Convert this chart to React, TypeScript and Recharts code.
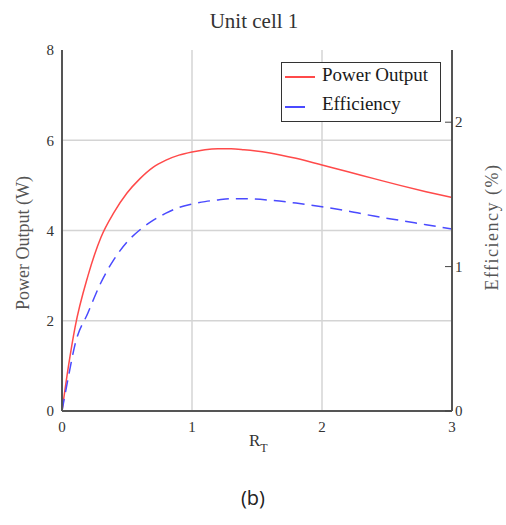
import { CartesianGrid, Line, LineChart, XAxis, YAxis } from "recharts";

const resistance = [0, 0.05, 0.1, 0.2, 0.3, 0.4, 0.5, 0.6, 0.7, 0.8, 0.9, 1.0, 1.1, 1.2, 1.3, 1.4, 1.6, 1.8, 2.0, 2.2, 2.4, 2.6, 2.8, 3.0];
const powerOutput = [0, 1.0, 1.85, 3.0, 3.85, 4.4, 4.83, 5.15, 5.4, 5.56, 5.67, 5.74, 5.79, 5.81, 5.81, 5.79, 5.72, 5.6, 5.45, 5.3, 5.15, 5.0, 4.86, 4.73];
const efficiency = [0, 0.24, 0.46, 0.68, 0.89, 1.05, 1.17, 1.255, 1.32, 1.37, 1.41, 1.433, 1.45, 1.462, 1.47, 1.47, 1.46, 1.44, 1.414, 1.385, 1.35, 1.32, 1.29, 1.26];

const xTicks = [0, 1, 2, 3];
const powerTicks = [0, 2, 4, 6, 8];
const effTicks = [0, 1, 2];

const data = resistance.map((r, i) => ({ r, power: powerOutput[i], eff: efficiency[i] }));

const serif = "'Liberation Serif', 'DejaVu Serif', serif";
const tickStyle = { fontSize: 15, fill: "#333", fontFamily: serif };

function RightTick({ x, y, payload }: any) {
  return (
    <g>
      <line x1={x - 10} x2={x - 3} y1={y} y2={y} stroke="#444" strokeWidth={1} />
      <text x={x} y={y} dy={5} textAnchor="start" {...tickStyle}>
        {payload.value}
      </text>
    </g>
  );
}

export default function App() {
  return (
    <div style={{ position: "absolute", left: 0, top: 0, width: 506, height: 525, background: "#fff", fontFamily: serif }}>
      <div style={{ position: "absolute", left: 0, width: 508, top: 9, textAlign: "center", fontSize: 21, color: "#333" }}>
        Unit cell 1
      </div>
      <LineChart width={506} height={525} data={data} margin={{ top: 50, right: 0, bottom: 84, left: 0 }}>
        <CartesianGrid stroke="#d4d4d4" strokeWidth={1.5} horizontalValues={[2, 4, 6]} verticalValues={[1, 2]} yAxisId="p" />
        <XAxis
          dataKey="r"
          type="number"
          domain={[0, 3]}
          ticks={xTicks}
          tickLine={false}
          axisLine={{ stroke: "#555", strokeWidth: 2 }}
          tick={tickStyle}
          tickMargin={4}
          height={30}
          interval={0}
        />
        <XAxis xAxisId="top" orientation="top" dataKey="r" type="number" domain={[0, 3]} tick={false} tickLine={false} axisLine={{ stroke: "#555", strokeWidth: 2 }} height={0} />
        <YAxis
          yAxisId="p"
          domain={[0, 8]}
          ticks={powerTicks}
          tickLine={false}
          axisLine={{ stroke: "#555", strokeWidth: 2 }}
          tick={tickStyle}
          tickMargin={2}
          width={62}
          interval={0}
        />
        <YAxis
          yAxisId="e"
          orientation="right"
          domain={[0, 2.5]}
          ticks={effTicks}
          tickLine={false}
          tickSize={0}
          tickMargin={3}
          axisLine={{ stroke: "#555", strokeWidth: 2 }}
          tick={<RightTick />}
          width={54}
          interval={0}
        />
        <Line yAxisId="p" dataKey="power" type="monotone" stroke="#ff4a4a" strokeWidth={1.5} dot={false} isAnimationActive={false} />
        <Line yAxisId="e" dataKey="eff" type="monotone" stroke="#4a4aff" strokeWidth={1.5} strokeDasharray="12 7" dot={false} isAnimationActive={false} />
      </LineChart>
      <div style={{ position: "absolute", left: 281, top: 62, width: 158, height: 58, border: "1.5px solid #333", background: "#fff", fontSize: 19, color: "#1a1a1a" }}>
        <div style={{ position: "absolute", left: 3, top: 13, width: 30, height: 0, borderTop: "2px solid #ff4a4a" }} />
        <div style={{ position: "absolute", left: 40, top: 1, whiteSpace: "nowrap" }}>Power Output</div>
        <div style={{ position: "absolute", left: 3, top: 43, width: 20, height: 0, borderTop: "2px solid #4a4aff" }} />
        <div style={{ position: "absolute", left: 40, top: 30, whiteSpace: "nowrap" }}>Efficiency</div>
      </div>
      <div style={{ position: "absolute", left: 23, top: 243, transform: "translate(-50%, -50%) rotate(-90deg)", fontSize: 18, color: "#555", whiteSpace: "nowrap" }}>
        Power Output (W)
      </div>
      <div style={{ position: "absolute", left: 492, top: 227, transform: "translate(-50%, -50%) rotate(-90deg)", fontSize: 18, letterSpacing: 1.5, color: "#555", whiteSpace: "nowrap" }}>
        Efficiency (%)
      </div>
      <div style={{ position: "absolute", left: 249, top: 431, fontSize: 17, color: "#333", whiteSpace: "nowrap" }}>
        R<span style={{ fontSize: 12, position: "relative", top: 6 }}>T</span>
      </div>
      <div style={{ position: "absolute", left: 0, width: 506, top: 484, textAlign: "center", fontSize: 20, color: "#222", fontFamily: "'Open Sans', 'Noto Sans', sans-serif" }}>
        (b)
      </div>
    </div>
  );
}
